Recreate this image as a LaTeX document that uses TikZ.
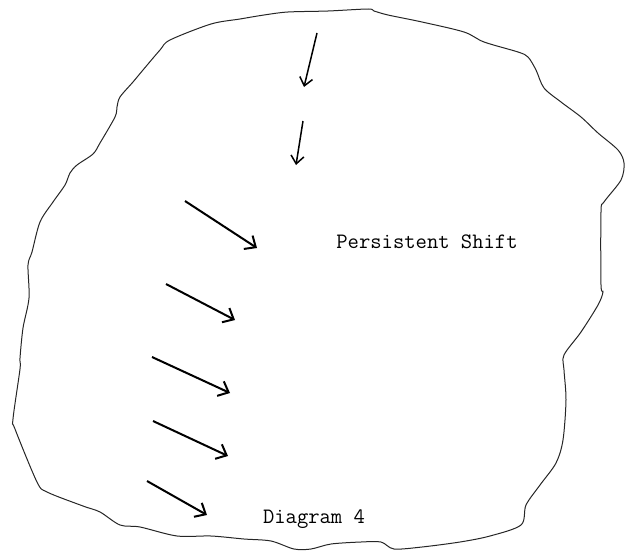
\documentclass[tikz,border=0pt]{standalone}
\usetikzlibrary{arrows.meta}
\begin{document}
\begin{tikzpicture}[
    x=1pt, y=-1pt,
    outline/.style={draw, line width=1pt, black!85},
    arr/.style={-{Straight Barb[length=9pt, width=16pt]}, line width=2pt},
    darr/.style={-{Straight Barb[length=8pt, width=13pt]}, line width=1.5pt},
    lbl/.style={font=\fontsize{22}{26}\selectfont\ttfamily, inner sep=0pt}
]
\useasboundingbox (0,0) rectangle (632,554);

% Blob outline
\draw[outline] plot[smooth cycle, tension=0.5] coordinates {
  (211,24) (240,19) (264,15) (288,12) (328,11) (368,9) (374,11) (388,15)
  (422,22) (464,32) (484,42) (518,52) (528,57) (536,70) (544,88) (561,102)
  (581,117) (598,133) (618,150) (624,163) (621,180) (604,202) (601,212)
  (601,285) (603,292) (598,305) (581,332) (564,355) (564,370) (566,400)
  (563,440) (556,463) (540,485) (526,505) (521,525) (490,536) (460,542)
  (422,547) (394,549) (381,542) (361,542) (331,544) (311,549) (294,549)
  (271,541) (244,539) (211,536) (177,536) (140,527) (120,525) (100,512)
  (83,506) (47,492) (37,482) (15,429) (13,419) (20,369) (20,358) (23,328)
  (29,298) (28,265) (32,252) (40,222) (53,202) (65,185) (70,173) (77,165)
  (93,154) (100,143) (115,117) (117,107) (120,97) (133,82) (143,70)
  (160,50) (170,40)};

% Labels
\node[lbl] (shift) at (427,242) {Persistent Shift};
\node[lbl] (diag) at (314,519) {Diagram 4};

% Downward arrows
\coordinate (d1s) at (317,33);  \coordinate (d1e) at (304,87);
\coordinate (d2s) at (303,121); \coordinate (d2e) at (296,165);
\draw[darr] (d1s) -- (d1e);
\draw[darr] (d2s) -- (d2e);

% Slanted arrows
\coordinate (a1s) at (185,201); \coordinate (a1e) at (257,248);
\coordinate (a2s) at (166,284); \coordinate (a2e) at (235,320);
\coordinate (a3s) at (152,357); \coordinate (a3e) at (230,393);
\coordinate (a4s) at (153,421); \coordinate (a4e) at (228,456);
\coordinate (a5s) at (147,481); \coordinate (a5e) at (207,515);
\draw[arr] (a1s) -- (a1e);
\draw[arr] (a2s) -- (a2e);
\draw[arr] (a3s) -- (a3e);
\draw[arr] (a4s) -- (a4e);
\draw[arr] (a5s) -- (a5e);
\end{tikzpicture}
\end{document}
